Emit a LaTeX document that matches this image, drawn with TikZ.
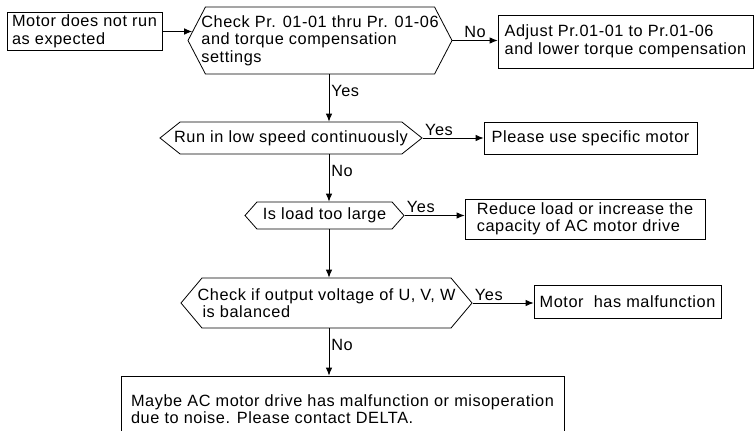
\documentclass[tikz,border=0pt]{standalone}
\usepackage{fontspec}
\setmainfont{Liberation Sans}[LetterSpace=3.5]
\usetikzlibrary{shapes.symbols,arrows.meta}
\begin{document}
\begin{tikzpicture}[
  x=1pt, y=-1pt,
  line width=0.8pt,
  every node/.style={font=\fontsize{16.3}{17.5}\selectfont},
  box/.style={draw, align=left, inner xsep=3pt, inner ysep=3pt},
  hexa/.style={draw, signal, signal to=west and east, signal pointer angle=#1, align=left, inner xsep=-10pt, inner ysep=2pt},
  lbl/.style={inner sep=2pt},
  arrow/.style={-{Latex[length=8pt,width=6.5pt]}}
]
\useasboundingbox (0,0) rectangle (755,431);
\clip (0,0) rectangle (755,431);
\node[box, minimum width=155pt, minimum height=35pt] (motor) at (84.5,31.5) {Motor does not run\\as expected};
\node[hexa=125, minimum width=264pt, minimum height=67pt] (chkpr) at (320,40.5) {Check Pr. 01-01 thru Pr. 01-06\\and torque compensation\\settings};
\node[box, minimum width=255pt, minimum height=53pt] (adjust) at (625.5,41.5) {Adjust Pr.01-01 to Pr.01-06\\and lower torque compensation};
\node[hexa=77, minimum width=262pt, minimum height=32pt] (lowspd) at (291,138) {Run in low speed continuously};
\node[box, minimum width=213pt, minimum height=32pt] (specmotor) at (590.5,138) {Please use specific motor};
\node[hexa=97, minimum width=159pt, minimum height=27pt] (load) at (324.5,215.5) {Is load too large};
\node[box, minimum width=240pt, minimum height=40pt] (reduce) at (585,219) {Reduce load or increase the\\capacity of AC motor drive};
\node[hexa=100, minimum width=291pt, minimum height=50pt] (voltage) at (326.5,303) {Check if output voltage of U, V, W\\\hspace*{5pt}is balanced};
\node[box, minimum width=187pt, minimum height=33pt] (fault) at (627.5,301.5) {Motor\ \ has malfunction};
\node[box, minimum width=443pt, minimum height=66pt] (delta) at (342.5,409) {Maybe AC motor drive has malfunction or misoperation\\due to noise. Please contact DELTA.};
% main line of the chart
\coordinate (spine) at (329,0);
\draw[arrow] (motor.east) -- (motor.east -| chkpr.176);
\draw[arrow] (chkpr.east) -- node[lbl, above] {No} (chkpr.east -| adjust.west);
\draw[arrow] (chkpr.south -| spine) -- node[lbl, right, pos=0.35] {Yes} (lowspd.north -| spine);
\draw[arrow] (lowspd.east) -- node[lbl, above right, pos=0] {Yes} (lowspd.east -| specmotor.west);
\draw[arrow] (lowspd.south -| spine) -- node[lbl, right, pos=0.35] {No} (load.north -| spine);
\draw[arrow] (load.east) -- node[lbl, above right, pos=0] {Yes} (load.east -| reduce.west);
\draw[arrow] (load.south -| spine) -- (voltage.north -| spine);
\draw[arrow] (voltage.east) -- node[lbl, above right, pos=0] {Yes} (voltage.east -| fault.west);
\draw[arrow] (voltage.south -| spine) -- node[lbl, right, pos=0.35] {No} (delta.north -| spine);
\end{tikzpicture}
\end{document}
